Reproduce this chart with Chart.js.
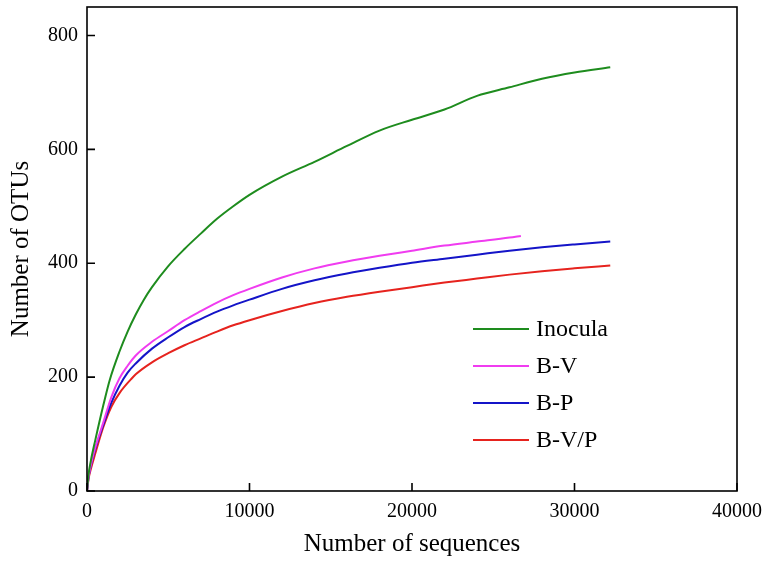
<!DOCTYPE html>
<html>
<head>
<meta charset="utf-8">
<script src="https://cdn.jsdelivr.net/npm/chart.js@4/dist/chart.umd.min.js"></script>
<style>
  html, body { margin: 0; padding: 0; background: #fff; }
  #wrap { width: 765px; height: 561px; }
</style>
</head>
<body>
<div id="wrap"><canvas id="chart" width="765" height="561"></canvas></div>
<script>
const seriesNames = ["Inocula", "B-V", "B-P", "B-V/P"];
const seriesColors = ["#1e8c1e", "#f03cf0", "#1414c8", "#e6231e"];

const inoculaX = [0, 100, 250, 500, 1000, 1400, 2000, 2500, 3000, 3500, 4000, 5000, 6000, 7000, 8000, 9000, 10000, 12000, 14000, 16000, 18000, 20000, 22000, 24000, 26000, 28000, 30000, 32200];
const inoculaY = [0, 30, 55, 88, 150, 195, 245, 280, 310, 336, 358, 395, 425, 452, 478, 500, 520, 552, 578, 606, 633, 652, 670, 694, 709, 724, 735, 744];

const bvX = [0, 100, 250, 500, 1000, 1500, 2000, 2500, 3000, 4000, 5000, 6000, 7000, 8000, 9000, 10000, 12000, 14000, 16000, 18000, 20000, 22000, 24000, 26000, 26700];
const bvY = [0, 25, 47, 75, 120, 165, 198, 220, 238, 262, 281, 300, 316, 331, 344, 355, 375, 391, 403, 413, 422, 431, 438, 445, 448];

const bpX = [0, 100, 250, 500, 1000, 1500, 2000, 2500, 3000, 4000, 5000, 6000, 7000, 8000, 9000, 10000, 12000, 14000, 16000, 18000, 20000, 22000, 24000, 26000, 28000, 30000, 32200];
const bpY = [0, 25, 46, 73, 116, 155, 185, 208, 224, 250, 270, 288, 302, 315, 326, 336, 355, 370, 382, 392, 401, 408, 415, 422, 428, 433, 438];

const bvpX = [0, 100, 250, 500, 1000, 1500, 2000, 2700, 3000, 4000, 5000, 6000, 7000, 8000, 9000, 10000, 12000, 14000, 16000, 18000, 20000, 22000, 24000, 26000, 28000, 30000, 32200];
const bvpY = [0, 22, 40, 65, 112, 148, 172, 196, 205, 226, 242, 256, 268, 280, 291, 300, 316, 330, 341, 350, 358, 366, 373, 380, 386, 391, 396];

const xTicks = [0, 10000, 20000, 30000, 40000];
const yTicks = [0, 200, 400, 600, 800];

const toPoints = (xs, ys) => xs.map((x, i) => ({ x, y: ys[i] }));
const allX = [inoculaX, bvX, bpX, bvpX];
const allY = [inoculaY, bvY, bpY, bvpY];

const serif = "'Liberation Serif', 'Times New Roman', serif";

// box, inward ticks and the in-plot legend
const framePlugin = {
  id: "frame",
  afterDraw(chart) {
    const ctx = chart.ctx;
    const a = chart.chartArea;
    const xs = chart.scales.x;
    const ys = chart.scales.y;
    ctx.save();
    ctx.strokeStyle = "#000";
    ctx.lineWidth = 1.6;
    ctx.strokeRect(a.left, a.top, a.right - a.left, a.bottom - a.top);
    ctx.beginPath();
    yTicks.forEach((v) => {
      const py = ys.getPixelForValue(v);
      ctx.moveTo(a.left, py);
      ctx.lineTo(a.left + 8, py);
    });
    xTicks.forEach((v) => {
      const px = xs.getPixelForValue(v);
      ctx.moveTo(px, a.bottom);
      ctx.lineTo(px, a.bottom - 8);
    });
    ctx.stroke();

    const lx = 473, ly0 = 329, gap = 37;
    ctx.font = "24px " + serif;
    ctx.textBaseline = "middle";
    ctx.fillStyle = "#000";
    seriesNames.forEach((name, i) => {
      const y = ly0 + i * gap;
      ctx.strokeStyle = seriesColors[i];
      ctx.lineWidth = 2;
      ctx.beginPath();
      ctx.moveTo(lx, y);
      ctx.lineTo(lx + 56, y);
      ctx.stroke();
      ctx.fillText(name, lx + 63, y + 1);
    });
    ctx.restore();
  },
};

const noPad = (s) => {
  s.paddingLeft = 0;
  s.paddingRight = 0;
  s.paddingTop = 0;
  s.paddingBottom = 0;
};

new Chart(document.getElementById("chart"), {
  type: "line",
  data: {
    datasets: seriesNames.map((name, i) => ({
      label: name,
      data: toPoints(allX[i], allY[i]),
      borderColor: seriesColors[i],
      borderWidth: 2,
      pointRadius: 0,
      cubicInterpolationMode: "monotone",
      fill: false,
    })),
  },
  options: {
    responsive: false,
    animation: false,
    layout: { padding: { top: 7, right: 28, left: 0, bottom: 0 } },
    plugins: { legend: { display: false }, tooltip: { enabled: false } },
    scales: {
      x: {
        type: "linear",
        min: 0,
        max: 40000,
        afterBuildTicks: (s) => { s.ticks = xTicks.map((v) => ({ value: v })); },
        afterFit: (s) => { s.height = 70; noPad(s); },
        grid: { display: false, drawTicks: false },
        border: { display: false },
        ticks: { color: "#000", font: { family: serif, size: 20 }, padding: 9, maxRotation: 0, callback: (v) => String(v) },
        title: { display: true, text: "Number of sequences", color: "#000", font: { family: serif, size: 25 }, padding: { top: 0, bottom: 2 } },
      },
      y: {
        type: "linear",
        min: 0,
        max: 850,
        afterBuildTicks: (s) => { s.ticks = yTicks.map((v) => ({ value: v })); },
        afterFit: (s) => { s.width = 87; noPad(s); },
        grid: { display: false, drawTicks: false },
        border: { display: false },
        ticks: { color: "#000", font: { family: serif, size: 20 }, padding: 9, callback: (v) => String(v) },
        title: { display: true, text: "Number of OTUs", color: "#000", font: { family: serif, size: 25 }, padding: { top: 6, bottom: 0 } },
      },
    },
  },
  plugins: [framePlugin],
});
</script>
</body>
</html>
